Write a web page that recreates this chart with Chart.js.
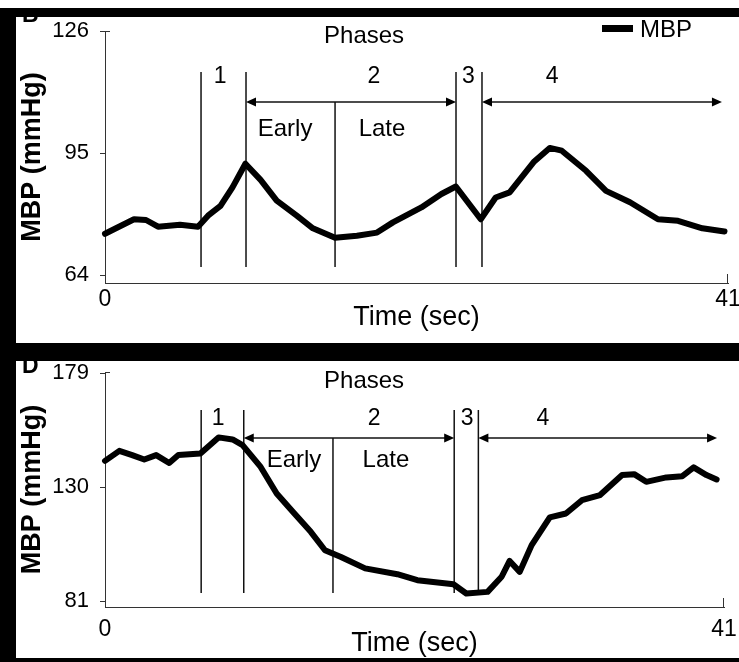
<!DOCTYPE html>
<html>
<head>
<meta charset="utf-8">
<script src="https://cdn.jsdelivr.net/npm/chart.js"></script>
<style>
  body { margin: 0; width: 739px; height: 662px; overflow: hidden; position: relative; background: #fff; }
  .panel { position: absolute; left: 16px; }
  .panel canvas { display: block; }
  .bar { position: absolute; background: #000; z-index: 5; }
</style>
</head>
<body>
<div class="panel" style="top:17px"><canvas id="chartTop" width="723" height="326"></canvas></div>
<div class="panel" style="top:361px"><canvas id="chartBottom" width="723" height="305"></canvas></div>
<div class="bar" style="left:0;top:8px;width:739px;height:9px"></div>
<div class="bar" style="left:0;top:8px;width:16px;height:654px"></div>
<div class="bar" style="left:0;top:343px;width:739px;height:18px"></div>
<div class="bar" style="left:0;top:658px;width:739px;height:4px"></div>
<script>
// time (sec) and mean blood pressure (mmHg)
const timeTop = [0, 0.72, 1.91, 2.70, 3.49, 4.94, 6.12, 6.78, 7.60, 8.39, 9.24, 10.24, 11.30, 12.62, 13.68,
  15.14, 16.58, 17.90, 18.95, 20.82, 22.14, 23.09, 24.73, 25.71, 26.63, 28.21, 29.27, 30.06, 31.66, 32.97,
  34.55, 36.39, 37.71, 39.31, 40.77];
const mbpTop = [74.5, 75.9, 78.2, 78.0, 76.3, 76.8, 76.3, 79.1, 81.6, 86.3, 92.3, 88.2, 82.9, 79.1, 75.9,
  73.5, 74.0, 74.8, 77.4, 81.2, 84.6, 86.5, 78.2, 83.7, 85.0, 92.7, 96.3, 95.6, 90.5, 85.4,
  82.5, 78.2, 77.8, 75.9, 75.1];

const timeBottom = [0, 0.95, 1.80, 2.60, 3.39, 4.25, 4.86, 6.32, 7.52, 8.45, 9.11, 10.31, 11.37, 12.44, 13.63,
  14.57, 15.63, 17.23, 19.36, 20.69, 23.08, 23.93, 25.34, 26.27, 26.80, 27.47, 28.26, 29.46, 30.53, 31.59,
  32.79, 34.25, 35.05, 35.85, 37.18, 38.24, 38.99, 39.84, 40.51];
const mbpBottom = [141.3, 145.6, 143.8, 141.9, 143.8, 140.4, 143.8, 144.5, 151.4, 150.5, 148.1, 138.7, 127.3, 119.4, 110.8,
  102.9, 100.0, 95.1, 92.6, 90.0, 88.3, 84.3, 85.0, 91.5, 98.3, 93.6, 105.1, 117.0, 118.7, 124.4,
  126.6, 135.2, 135.6, 132.3, 134.2, 134.7, 138.5, 135.2, 133.3];

const xTicks = [0, 41];
const yTicksTop = [64, 95, 126];
const yTicksBottom = [81, 130, 179];

// phase boundaries (sec)
const phaseTop = [6.32, 9.28, 15.14, 23.10, 24.81];
const phaseBottom = [6.37, 9.19, 15.10, 23.13, 24.73];
const phaseNames = ["1", "2", "3", "4"];
const subPhaseNames = ["Early", "Late"];

// where the annotation text sits (offsets in px from the plot top, x in sec)
const layoutTop = { min: 62, max: 126, padTop: 14, padRight: 11, xHeight: 60, tickPad: 3, titlePad: 9,
  phasesY: 5, numY: 46, arrowY: 71, subY: 98, lineTop: 41, lineGap: 16, arrowEnd: 40.6,
  phasesX: 17.05, numX: [7.57, 17.7, 23.92, 29.42], subX: [11.85, 18.23],
  letter: "B", letterY: 5, legend: true };
const layoutBottom = { min: 78.5, max: 179.5, padTop: 11, padRight: 15, xHeight: 59, tickPad: 9, titlePad: 6,
  phasesY: 9, numY: 47, arrowY: 66, subY: 88, lineTop: 38, lineGap: 14, arrowEnd: 40.54,
  phasesX: 17.16, numX: [7.49, 17.82, 23.98, 29.01], subX: [12.52, 18.61],
  letter: "D", letterY: 12, legend: false };

const FONT = "'Liberation Sans', Arial, Helvetica, sans-serif";
Chart.defaults.font.family = FONT;
Chart.defaults.color = "#000";

function phasePlugin(phase, L) {
  const seg = (ctx, x1, y1, x2, y2) => { ctx.beginPath(); ctx.moveTo(x1, y1); ctx.lineTo(x2, y2); ctx.stroke(); };
  const head = (ctx, x, y, dir) => {
    ctx.beginPath(); ctx.moveTo(x, y); ctx.lineTo(x - dir * 10, y - 4.5); ctx.lineTo(x - dir * 10, y + 4.5);
    ctx.closePath(); ctx.fill();
  };
  return {
    id: "phases",
    beforeDatasetsDraw(chart) {
      const ctx = chart.ctx, a = chart.chartArea, px = t => chart.scales.x.getPixelForValue(t);
      ctx.save();
      ctx.strokeStyle = "#111"; ctx.lineWidth = 1.5;
      [0, 1, 3, 4].forEach(i => seg(ctx, px(phase[i]), a.top + L.lineTop, px(phase[i]), a.bottom - L.lineGap));
      seg(ctx, px(phase[2]), a.top + L.arrowY, px(phase[2]), a.bottom - L.lineGap);
      ctx.restore();
    },
    afterDraw(chart) {
      const ctx = chart.ctx, a = chart.chartArea, px = t => chart.scales.x.getPixelForValue(t);
      ctx.save();
      ctx.strokeStyle = "#111"; ctx.fillStyle = "#000"; ctx.lineWidth = 1.5;
      const ay = a.top + L.arrowY;
      // arrows for phase 2 and 4
      [[px(phase[1]), px(phase[3])], [px(phase[4]), px(L.arrowEnd)]].forEach(([x1, x2]) => {
        seg(ctx, x1 + 4, ay, x2 - 4, ay);
        head(ctx, x1, ay, -1);
        head(ctx, x2, ay, 1);
      });
      // axis end marks
      ctx.strokeStyle = "#333"; ctx.lineWidth = 1;
      seg(ctx, a.left, a.top + 0.5, a.left + 5, a.top + 0.5);
      seg(ctx, a.right - 0.5, a.bottom, a.right - 0.5, a.bottom - 9);
      // text
      ctx.textAlign = "center"; ctx.textBaseline = "middle";
      ctx.font = "24px " + FONT;
      ctx.fillText("Phases", px(L.phasesX), a.top + L.phasesY);
      ctx.font = "23px " + FONT;
      phaseNames.forEach((n, i) => ctx.fillText(n, px(L.numX[i]), a.top + L.numY));
      ctx.font = "24px " + FONT;
      subPhaseNames.forEach((n, i) => ctx.fillText(n, px(L.subX[i]), a.top + L.subY));
      // panel letter, mostly hidden under the frame
      ctx.textAlign = "left"; ctx.textBaseline = "alphabetic";
      ctx.font = "bold 23px " + FONT;
      ctx.fillText(L.letter, 6, L.letterY);
      if (L.legend) {
        ctx.lineWidth = 7; ctx.strokeStyle = "#000";
        seg(ctx, 586, 11.5, 617, 11.5);
        ctx.font = "24px " + FONT;
        ctx.fillText("MBP", 624, 20);
      }
      ctx.restore();
    }
  };
}

function makeChart(id, times, values, yTicks, phase, L) {
  const ctx = document.getElementById(id).getContext("2d");
  return new Chart(ctx, {
    type: "line",
    data: {
      datasets: [{
        label: "MBP",
        data: times.map((t, i) => ({ x: t, y: values[i] })),
        borderColor: "#000",
        borderWidth: 6,
        pointRadius: 0,
        tension: 0,
        borderJoinStyle: "round",
        borderCapStyle: "round",
        clip: false
      }]
    },
    options: {
      responsive: false,
      devicePixelRatio: 1,
      animation: false,
      events: [],
      layout: { autoPadding: false, padding: { top: L.padTop, right: L.padRight, left: 0, bottom: 0 } },
      plugins: { legend: { display: false }, tooltip: { enabled: false } },
      scales: {
        x: {
          type: "linear", min: 0, max: 41,
          afterBuildTicks: s => { s.ticks = xTicks.map(v => ({ value: v })); },
          afterFit: s => { s.height = L.xHeight; s.paddingLeft = 0; s.paddingRight = 0; },
          grid: { drawOnChartArea: false, drawTicks: false },
          border: { color: "#333", width: 1 },
          ticks: { font: { size: 23 }, color: "#000", padding: L.tickPad, maxRotation: 0, autoSkip: false },
          title: { display: true, text: "Time (sec)", font: { size: 27 }, color: "#000", padding: { top: 0, bottom: L.titlePad } }
        },
        y: {
          type: "linear", min: L.min, max: L.max,
          afterBuildTicks: s => { s.ticks = yTicks.map(v => ({ value: v })); },
          afterFit: s => { s.width = 89; s.paddingTop = 0; s.paddingBottom = 0; },
          grid: { drawOnChartArea: false, drawTicks: true, tickLength: 5, color: "#333" },
          border: { color: "#333", width: 1 },
          ticks: { font: { size: 22 }, color: "#000", padding: 11 },
          title: { display: true, text: "MBP (mmHg)", font: { size: 27, weight: "bold" }, color: "#000", padding: { top: 0, bottom: 0 } }
        }
      }
    },
    plugins: [phasePlugin(phase, L)]
  });
}

makeChart("chartTop", timeTop, mbpTop, yTicksTop, phaseTop, layoutTop);
makeChart("chartBottom", timeBottom, mbpBottom, yTicksBottom, phaseBottom, layoutBottom);
</script>
</body>
</html>
